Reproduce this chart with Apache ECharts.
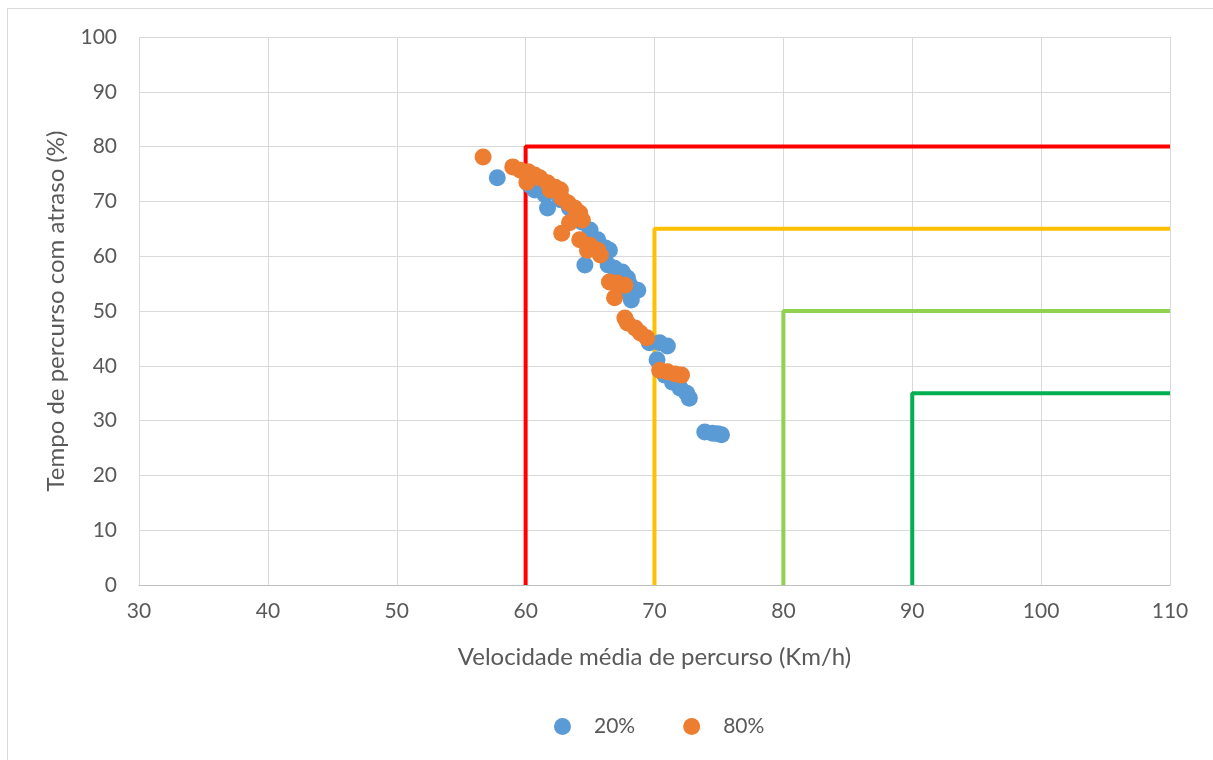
<!DOCTYPE html>
<html>
<head>
<meta charset="utf-8">
<script src="https://cdn.jsdelivr.net/npm/echarts@6/dist/echarts.min.js"></script>
<style>
  html, body { margin: 0; padding: 0; background: #fff; }
  #frame { position: absolute; left: 7px; top: 8px; width: 1220px; height: 770px; border: 1px solid #d9d9d9; }
  #chart { position: absolute; left: 0; top: 0; width: 1213px; height: 760px; }
</style>
</head>
<body>
<div id="frame"></div>
<div id="chart"></div>
<script>
// 20% series: [velocidade, tempo com atraso]
const serie20 = [
  [57.8, 74.3], [60.3, 73.0], [60.7, 72.1], [61.5, 71.2], [61.7, 68.8],
  [62.7, 70.3], [63.4, 68.8], [64.1, 67.7], [64.4, 66.2], [65.0, 64.8],
  [65.6, 63.0], [66.2, 61.5], [66.5, 61.1], [64.6, 58.4], [66.4, 58.4],
  [66.9, 57.8], [67.5, 57.1], [67.9, 56.0], [68.1, 54.7], [68.7, 53.8],
  [68.2, 52.0], [67.6, 53.8], [69.6, 44.2], [70.4, 44.2], [71.0, 43.6],
  [70.2, 41.1], [70.8, 38.3], [71.4, 37.0], [72.0, 35.9], [72.5, 35.0],
  [72.7, 34.1], [73.9, 27.9], [74.5, 27.7], [74.9, 27.6], [75.2, 27.4]
]
// 80% series
const serie80 = [
  [56.7, 78.1], [59.0, 76.3], [59.6, 75.7], [60.2, 75.4], [60.7, 74.8],
  [61.1, 74.3], [60.1, 73.5], [61.7, 73.4], [62.3, 72.6], [62.7, 72.1],
  [61.9, 72.1], [62.8, 70.6], [63.3, 69.7], [63.8, 68.8], [64.2, 67.9],
  [64.4, 66.6], [63.4, 66.1], [62.8, 64.2], [64.2, 63.0], [65.0, 62.0],
  [65.6, 61.1], [65.8, 60.2], [64.8, 61.1], [66.5, 55.3], [67.1, 55.1],
  [67.7, 54.7], [66.9, 52.4], [67.7, 48.7], [67.9, 47.8], [68.5, 46.9],
  [68.9, 46.0], [69.4, 45.1], [70.4, 39.2], [71.0, 38.9], [71.6, 38.5],
  [72.1, 38.3]
]
// limit lines (step shape)
const limiteVermelho = [[60, 0], [60, 80], [110, 80]]
const limiteAmarelo = [[70, 0], [70, 65], [110, 65]]
const limiteVerdeClaro = [[80, 0], [80, 50], [110, 50]]
const limiteVerde = [[90, 0], [90, 35], [110, 35]]

const fonte = 'Lato, "Liberation Sans", sans-serif'

function linha (data, color) {
  return {
    type: 'line',
    data: data,
    symbol: 'none',
    silent: true,
    z: 1,
    lineStyle: { color: color, width: 4 }
  }
}

let myChart = echarts.init(document.getElementById('chart'))
myChart.setOption({
  animation: false,
  textStyle: { fontFamily: fonte },
  legend: {
    data: ['20%', '80%'],
    bottom: 18,
    left: 549,
    icon: 'circle',
    itemWidth: 17,
    itemHeight: 17,
    itemGap: 48,
    textStyle: { color: '#595959', fontSize: 21, fontFamily: fonte, padding: [0, 0, 0, 18] }
  },
  grid: {
    left: 139,
    right: 43,
    top: 37,
    bottom: 175
  },
  xAxis: {
    type: 'value',
    min: 30,
    max: 110,
    interval: 10,
    name: 'Velocidade média de percurso (Km/h)',
    nameLocation: 'middle',
    nameGap: 60,
    nameTextStyle: { color: '#595959', fontSize: 24, fontFamily: fonte },
    axisLine: { show: true, lineStyle: { color: '#bfbfbf', width: 1 } },
    axisTick: { show: false },
    axisLabel: { color: '#595959', fontSize: 21, margin: 16, fontFamily: fonte },
    splitLine: { show: true, lineStyle: { color: '#d9d9d9', width: 1 } }
  },
  yAxis: {
    type: 'value',
    min: 0,
    max: 100,
    interval: 10,
    name: 'Tempo de percurso com atraso (%)',
    nameLocation: 'middle',
    nameGap: 71,
    nameTextStyle: { color: '#595959', fontSize: 24, fontFamily: fonte },
    axisLine: { show: false },
    axisTick: { show: false },
    axisLabel: { color: '#595959', fontSize: 21, margin: 22, fontFamily: fonte },
    splitLine: { show: true, lineStyle: { color: '#d9d9d9', width: 1 } }
  },
  series: [
    linha(limiteVermelho, '#ff0000'),
    linha(limiteAmarelo, '#ffc000'),
    linha(limiteVerdeClaro, '#92d050'),
    linha(limiteVerde, '#00b050'),
    {
      name: '20%',
      type: 'scatter',
      data: serie20,
      symbolSize: 17,
      z: 3,
      itemStyle: { color: '#5b9bd5', opacity: 1 }
    },
    {
      name: '80%',
      type: 'scatter',
      data: serie80,
      symbolSize: 17,
      z: 4,
      itemStyle: { color: '#ed7d31', opacity: 1 }
    }
  ]
})
</script>
</body>
</html>
